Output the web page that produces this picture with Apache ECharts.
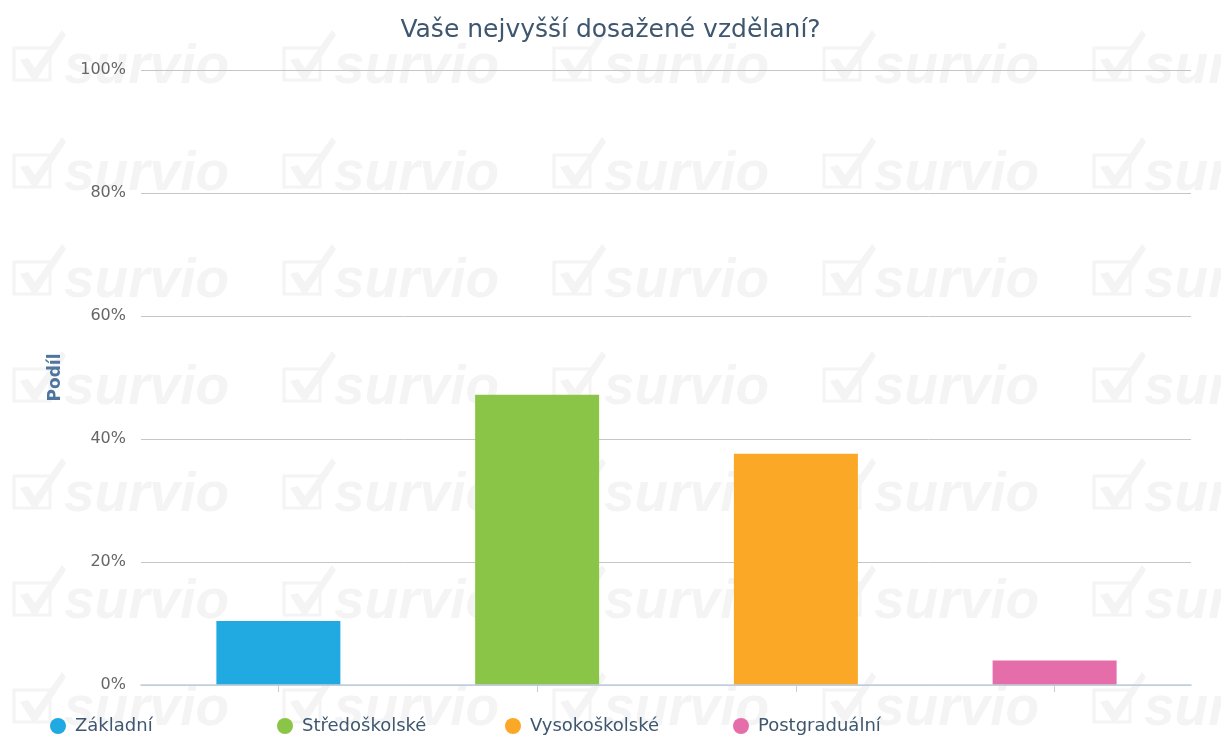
<!DOCTYPE html>
<html>
<head>
<meta charset="utf-8">
<title>Vaše nejvyšší dosažené vzdělaní?</title>
<script src="https://cdn.jsdelivr.net/npm/echarts@6/dist/echarts.min.js"></script>
<style>
  html, body { margin: 0; padding: 0; background: #fff; }
  #main { width: 1221px; height: 737px; }
</style>
</head>
<body>
<div id="main"></div>
<script>
// data (share in %)
var categories = ['Základní', 'Středoškolské', 'Vysokoškolské', 'Postgraduální'];
var shares = [10.4, 47.2, 37.6, 4.0];
var colors = ['#20aae1', '#8bc547', '#faa825', '#e56eaa'];
var yTicks = [0, 20, 40, 60, 80, 100];

// watermark tile (decoration only)
function makeTile() {
	var c = document.createElement('canvas');
	c.width = 270; c.height = 107;
	var g = c.getContext('2d');
	g.fillStyle = '#f4f4f4';
	g.strokeStyle = '#f4f4f4';
	// box
	g.lineWidth = 3;
	g.strokeRect(14, 48, 36, 32);
	// check
	g.beginPath();
	g.moveTo(20, 60); g.lineTo(28, 58); g.lineTo(35, 68);
	g.lineTo(62, 30); g.lineTo(66, 35); g.lineTo(37, 79); g.lineTo(32, 79);
	g.closePath();
	g.fill();
	g.font = 'italic bold 55px "Liberation Sans"';
	g.fillText('survio', 64, 83);
	return c;
}

var series = [];
for (var i = 0; i < categories.length; i++) {
	var d = [];
	for (var j = 0; j < categories.length; j++) d.push(i == j ? shares[i] : '-');
	series.push({
		name: categories[i],
		type: 'bar',
		stack: 'all',
		xAxisIndex: 0,
		yAxisIndex: 0,
		barWidth: 124,
		itemStyle: { color: colors[i] },
		data: d
	});
}

var legends = [];
var legendLeft = [50, 277, 505, 733];
for (var k = 0; k < categories.length; k++) {
	legends.push({
		data: [categories[k]],
		left: legendLeft[k],
		top: 717,
		padding: 0,
		icon: 'circle',
		itemWidth: 16,
		itemHeight: 16,
		selectedMode: false,
		textStyle: { fontFamily: 'DejaVu Sans', fontSize: 18, color: '#3e576f', padding: [0, 0, 0, 4] }
	});
}

var myChart = echarts.init(document.getElementById('main'));
var option = {
	backgroundColor: { image: makeTile(), repeat: 'repeat' },
	animation: false,
	title: {
		text: 'Vaše nejvyšší dosažené vzdělaní?',
		left: 'center',
		top: 13,
		textStyle: { fontFamily: 'DejaVu Sans', fontSize: 25, fontWeight: 'normal', color: '#3e576f' }
	},
	legend: legends,
	grid: [
		// bars
		{ left: 149, right: 37, top: 70, bottom: 52 },
		// gridlines, labels, baseline
		{ left: 141, right: 30, top: 70, bottom: 52 }
	],
	xAxis: [
		{
			type: 'category',
			gridIndex: 0,
			data: categories,
			axisLine: { show: false },
			axisTick: { show: true, alignWithLabel: true, length: 7, lineStyle: { color: '#c0d0e0' } },
			axisLabel: { show: false }
		},
		{
			type: 'category',
			gridIndex: 1,
			z: 3,
			data: [''],
			axisLine: { show: true, lineStyle: { color: '#c0d0e0', width: 1.5 } },
			axisTick: { show: false },
			axisLabel: { show: false }
		}
	],
	yAxis: [
		{
			type: 'value',
			gridIndex: 0,
			min: 0, max: 100, interval: 20,
			axisLine: { show: false },
			axisLabel: { show: false },
			splitLine: { show: false }
		},
		{
			type: 'value',
			gridIndex: 1,
			min: yTicks[0], max: yTicks[yTicks.length - 1], interval: 20,
			name: 'Podíl',
			nameLocation: 'middle',
			nameRotate: 90,
			nameGap: 77,
			nameTextStyle: { fontFamily: 'DejaVu Sans', fontSize: 17, fontWeight: 'bold', color: '#4d759e' },
			axisLine: { show: false },
			axisTick: { show: false },
			axisLabel: { formatter: '{value}%', margin: 15, fontFamily: 'DejaVu Sans', fontSize: 16, color: '#666' },
			splitLine: { show: true, lineStyle: { color: '#c6c6c6', width: 1 } }
		}
	],
	series: series
};
myChart.setOption(option);
</script>
</body>
</html>
